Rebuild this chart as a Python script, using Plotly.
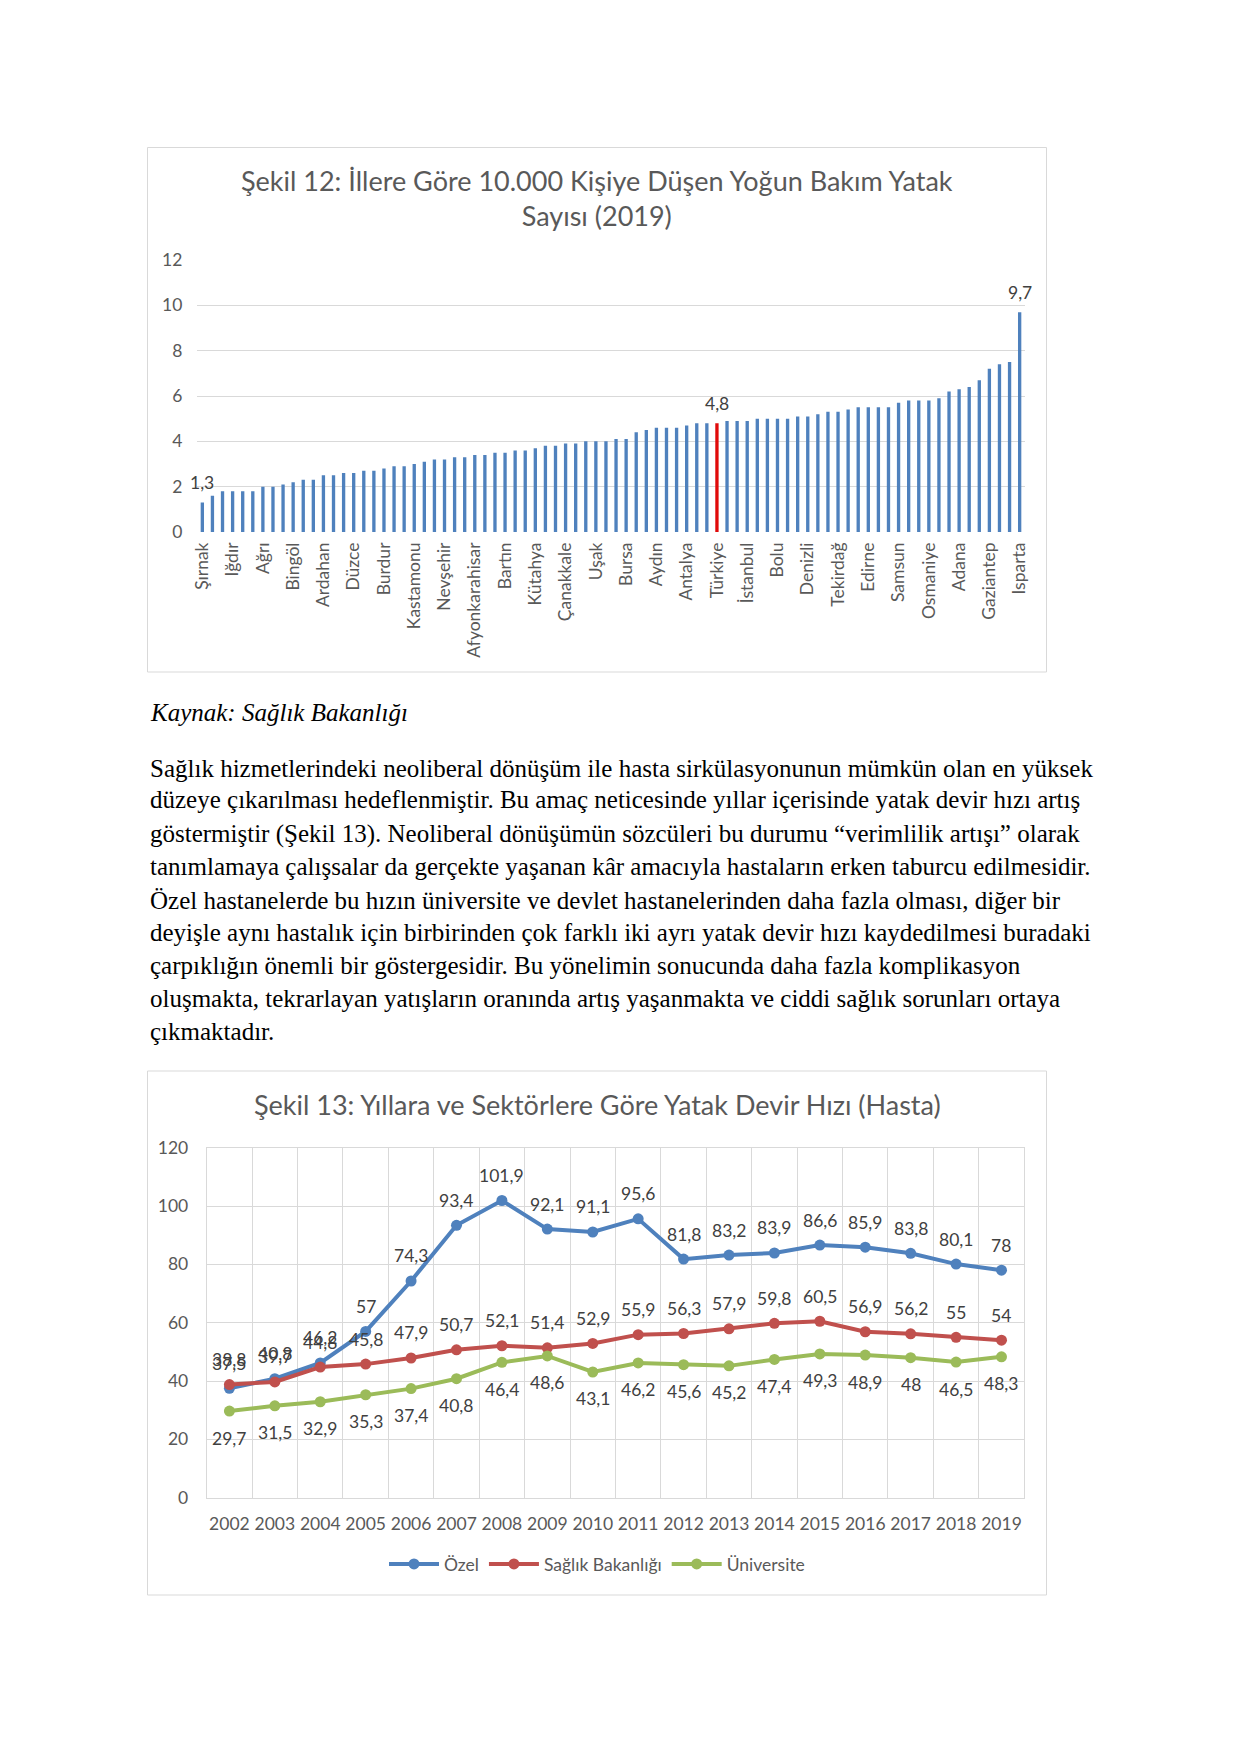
import plotly.graph_objects as go

W, H = 1241, 1754

# ---------------- Data: Şekil 12 ----------------
bar_values = [
    1.3, 1.6, 1.8, 1.8, 1.8, 1.8, 2.0, 2.0, 2.1, 2.2,
    2.3, 2.3, 2.5, 2.5, 2.6, 2.6, 2.7, 2.7, 2.8, 2.9,
    2.9, 3.0, 3.1, 3.2, 3.2, 3.3, 3.3, 3.4, 3.4, 3.5,
    3.5, 3.6, 3.6, 3.7, 3.8, 3.8, 3.9, 3.9, 4.0, 4.0,
    4.0, 4.1, 4.1, 4.4, 4.5, 4.6, 4.6, 4.6, 4.7, 4.8,
    4.8, 4.8, 4.9, 4.9, 4.9, 5.0, 5.0, 5.0, 5.0, 5.1,
    5.1, 5.2, 5.3, 5.3, 5.4, 5.5, 5.5, 5.5, 5.5, 5.7,
    5.8, 5.8, 5.8, 5.9, 6.2, 6.3, 6.4, 6.7, 7.2, 7.4,
    7.5, 9.7,
]
# labelled provinces (every third bar is labelled on the axis)
bar_tick_labels = [
    "Şırnak", "Iğdır", "Ağrı", "Bingöl", "Ardahan", "Düzce", "Burdur",
    "Kastamonu", "Nevşehir", "Afyonkarahisar", "Bartın", "Kütahya",
    "Çanakkale", "Uşak", "Bursa", "Aydın", "Antalya", "Türkiye",
    "İstanbul", "Bolu", "Denizli", "Tekirdağ", "Edirne", "Samsun",
    "Osmaniye", "Adana", "Gaziantep", "Isparta",
]
label_step = 3
highlight_label = "Türkiye"
value_label_bars = ["Şırnak", "Türkiye", "Isparta"]

# ---------------- Data: Şekil 13 ----------------
years = [str(y) for y in range(2002, 2020)]
ozel = [37.5, 40.8, 46.2, 57, 74.3, 93.4, 101.9, 92.1, 91.1, 95.6,
        81.8, 83.2, 83.9, 86.6, 85.9, 83.8, 80.1, 78]
saglik = [38.8, 39.7, 44.8, 45.8, 47.9, 50.7, 52.1, 51.4, 52.9, 55.9,
          56.3, 57.9, 59.8, 60.5, 56.9, 56.2, 55, 54]
universite = [29.7, 31.5, 32.9, 35.3, 37.4, 40.8, 46.4, 48.6, 43.1, 46.2,
              45.6, 45.2, 47.4, 49.3, 48.9, 48, 46.5, 48.3]

paragraph_lines = [
    "Sağlık hizmetlerindeki neoliberal dönüşüm ile hasta sirkülasyonunun mümkün olan en yüksek",
    "düzeye çıkarılması hedeflenmiştir. Bu amaç neticesinde yıllar içerisinde yatak devir hızı artış",
    "göstermiştir (Şekil 13). Neoliberal dönüşümün sözcüleri bu durumu “verimlilik artışı” olarak",
    "tanımlamaya çalışsalar da gerçekte yaşanan kâr amacıyla hastaların erken taburcu edilmesidir.",
    "Özel hastanelerde bu hızın üniversite ve devlet hastanelerinden daha fazla olması, diğer bir",
    "deyişle aynı hastalık için birbirinden çok farklı iki ayrı yatak devir hızı kaydedilmesi buradaki",
    "çarpıklığın önemli bir göstergesidir. Bu yönelimin sonucunda daha fazla komplikasyon",
    "oluşmakta, tekrarlayan yatışların oranında artış yaşanmakta ve ciddi sağlık sorunları ortaya",
    "çıkmaktadır.",
]

# ---------------- helpers ----------------
def fmt(v):
    return (str(int(v)) if float(v).is_integer() else str(v)).replace(".", ",")

def px(x):
    return x / W

def py(y):
    return 1 - y / H

CHART_FONT = "Lato"
GREY = "#595959"
GRID = "#D9D9D9"
TICK = 17.5

fig = go.Figure()

# ---------------- Chart 1 ----------------
idx = list(range(len(bar_values)))
tick_idx = idx[::label_step]
hl = tick_idx[bar_tick_labels.index(highlight_label)]
colors = ["#E00A0A" if i == hl else "#4F81BD" for i in idx]
label_idx = [tick_idx[bar_tick_labels.index(n)] for n in value_label_bars]

fig.add_trace(go.Bar(
    x=idx, y=bar_values, marker=dict(color=colors, line=dict(width=0)),
    xaxis="x", yaxis="y", showlegend=False, hoverinfo="skip",
))

annotations = []
for i in label_idx:
    annotations.append(dict(
        x=idx[i], y=bar_values[i], xref="x", yref="y", text=fmt(bar_values[i]),
        showarrow=False, yshift=20,
        font=dict(family=CHART_FONT, size=TICK, color="#404040"),
    ))

# ---------------- Chart 2 ----------------
xpos = list(range(len(years)))
series = [
    ("Özel", ozel, "#4F81BD", 25),
    ("Sağlık Bakanlığı", saglik, "#C0504D", 25),
    ("Üniversite", universite, "#9BBB59", -27),
]
for name, vals, col, shift in series:
    fig.add_trace(go.Scatter(
        x=xpos, y=vals, name=name, mode="lines+markers",
        line=dict(color=col, width=4),
        marker=dict(color=col, size=11),
        xaxis="x2", yaxis="y2", hoverinfo="skip",
    ))

for name, vals, col, shift in series:
    for xp, v in zip(xpos, vals):
        annotations.append(dict(
            x=xp, y=v, xref="x2", yref="y2", text=fmt(v), showarrow=False,
            yshift=shift, font=dict(family=CHART_FONT, size=TICK, color="#404040"),
        ))

# Titles
annotations.append(dict(
    x=px(597), y=py(198), xref="paper", yref="paper", showarrow=False,
    text="Şekil 12: İllere Göre 10.000 Kişiye Düşen Yoğun Bakım Yatak<br>Sayısı (2019)",
    font=dict(family=CHART_FONT, size=27, color=GREY), align="center",
    xanchor="center", yanchor="middle",
))
annotations.append(dict(
    x=px(597), y=py(1104), xref="paper", yref="paper", showarrow=False,
    text="Şekil 13: Yıllara ve Sektörlere Göre Yatak Devir Hızı (Hasta)",
    font=dict(family=CHART_FONT, size=27, color=GREY),
    xanchor="center", yanchor="middle",
))

# Page text
annotations.append(dict(
    x=px(148), y=py(713), xref="paper", yref="paper", showarrow=False,
    text="<i>Kaynak: Sağlık Bakanlığı</i>",
    font=dict(family="Liberation Serif", size=25, color="black"),
    xanchor="left", yanchor="middle",
))
line_y = [768, 800, 834, 866, 900, 932, 965, 998, 1031]
for t, yy in zip(paragraph_lines, line_y):
    annotations.append(dict(
        x=px(148), y=py(yy), xref="paper", yref="paper", showarrow=False,
        text=t, font=dict(family="Liberation Serif", size=25, color="black"),
        xanchor="left", yanchor="middle",
    ))

shapes = [
    dict(type="rect", xref="paper", yref="paper",
         x0=px(147.5), x1=px(1046.5), y0=py(147.5), y1=py(672),
         line=dict(color=GRID, width=1), fillcolor="rgba(0,0,0,0)"),
    dict(type="rect", xref="paper", yref="paper",
         x0=px(147.5), x1=px(1046.5), y0=py(1071), y1=py(1595),
         line=dict(color=GRID, width=1), fillcolor="rgba(0,0,0,0)"),
]

tickfont = dict(family=CHART_FONT, size=TICK, color=GREY)

fig.update_layout(
    width=W, height=H,
    margin=dict(l=0, r=0, t=0, b=0, pad=0, autoexpand=False),
    paper_bgcolor="white", plot_bgcolor="white",
    separators=",.",
    bargap=0.67,
    annotations=annotations, shapes=shapes,
    xaxis=dict(
        domain=[px(197.3), px(1024.7)], range=[-0.5, len(bar_values) - 0.5],
        tickvals=tick_idx, ticktext=bar_tick_labels, tickangle=-90,
        tickfont=tickfont, showgrid=False, zeroline=False, showline=False,
        ticks="", ticklabelstandoff=6, anchor="y", fixedrange=True, automargin=False,
    ),
    yaxis=dict(
        domain=[py(532), py(260)], range=[0, 12], dtick=2,
        tickfont=tickfont, showgrid=True, gridcolor=GRID, gridwidth=1,
        zeroline=False, showline=False, ticks="", ticklabelstandoff=14,
        anchor="x", fixedrange=True, automargin=False,
    ),
    xaxis2=dict(
        domain=[px(206.7), px(1024.2)], range=[-0.5, len(years) - 0.5],
        tickvals=xpos, ticktext=years, showgrid=False,
        minor=dict(tick0=0.5, dtick=1, showgrid=True, gridcolor=GRID, gridwidth=1, ticks=""),
        zeroline=False, showline=True, linecolor=GRID, mirror=True, ticks="",
        tickfont=tickfont, ticklabelstandoff=10, anchor="y2", fixedrange=True,
        automargin=False,
    ),
    yaxis2=dict(
        domain=[py(1497.7), py(1147.7)], range=[0, 120], dtick=20,
        tickfont=tickfont, showgrid=True, gridcolor=GRID, gridwidth=1,
        zeroline=False, showline=True, linecolor=GRID, mirror=True,
        ticks="", ticklabelstandoff=14, anchor="x2", fixedrange=True,
        automargin=False,
    ),
    legend=dict(
        orientation="h", x=px(597), y=py(1564), xanchor="center", yanchor="middle",
        font=dict(family=CHART_FONT, size=TICK, color=GREY),
        bgcolor="rgba(0,0,0,0)", itemwidth=50, tracegroupgap=0,
    ),
)

fig.write_html(
    "out.html",
    config={"displayModeBar": False, "responsive": False},
    post_script="document.body.style.margin='0px';",
)
